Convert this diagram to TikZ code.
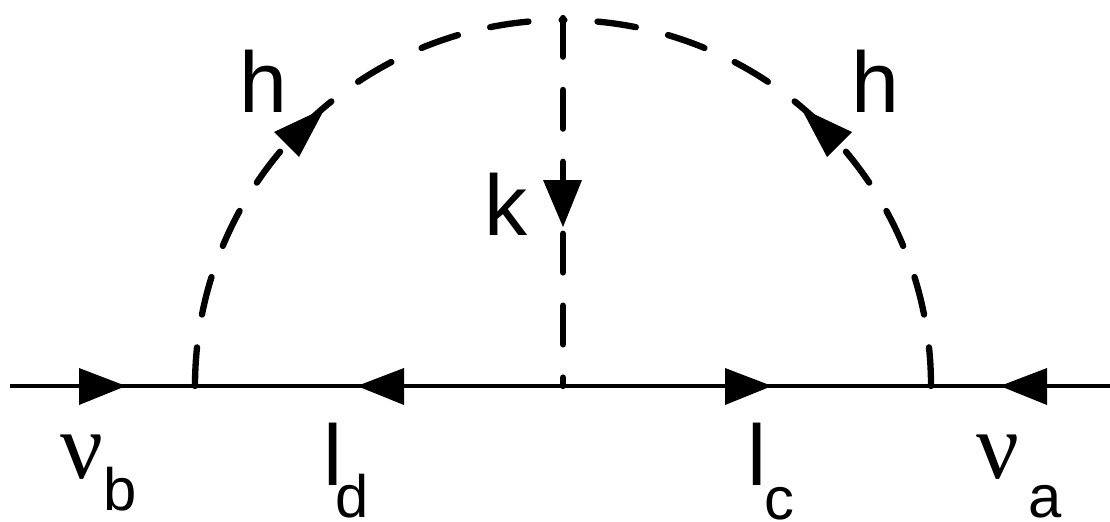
\documentclass[tikz,border=0pt]{standalone}
\usepackage{fontspec}
\setmainfont{Liberation Sans}
\newfontfamily\nufont{Liberation Serif}
\begin{document}
\begin{tikzpicture}[x=0.01cm,y=-0.01cm,
 fermion/.style={line width=1.4pt},
 scalar/.style={line width=1.8pt,line cap=round,dash pattern=on 11pt off 9.45pt},
 lab/.style={font=\fontsize{24.5}{24.5}\selectfont,inner sep=0pt,anchor=base},
 nulab/.style={font=\nufont\fontsize{27}{27}\selectfont,inner sep=0pt,anchor=base},
 sublab/.style={font=\fontsize{17}{17}\selectfont,inner sep=0pt,anchor=base}]
\useasboundingbox (0,0) rectangle (1110,521);
\coordinate (L) at (10,386);
\coordinate (R) at (1110,386);
\coordinate (A) at (195,386);
\coordinate (B) at (931,386);
\coordinate (T) at (563,20);
\coordinate (Ttop) at (563,18);
\coordinate (M) at (563,386);
\draw[fermion] (L) -- (R);
\draw[scalar] (A) .. controls (195,183) and (360,20) .. (T);
\draw[scalar] (B) .. controls (931,183) and (766,20) .. (T);
\draw[scalar] (Ttop) -- (M);
% arrowheads
\fill (126,386) -- (79,368) -- (79,405) -- cycle;
\fill (357,386) -- (404,368) -- (404,405) -- cycle;
\fill (772,386) -- (725,368) -- (725,405) -- cycle;
\fill (1000,386) -- (1047,368) -- (1047,405) -- cycle;
\fill (563,227) -- (543,180) -- (582,180) -- cycle;
\fill (325,108) -- (274,132) -- (299,157) -- cycle;
\fill (801,108) -- (852,132) -- (827,157) -- cycle;
\node[lab] (h1) at (263,112) {h};
\node[lab] (h2) at (875,112) {h};
\node[lab] (k) at (506,235) {k};
\node[nulab] (nb) at (82,478) {ν};
\node[sublab] (nbs) at (120,510) {b};
\node[lab] (ld) at (333,485) {l};
\node[sublab] (lds) at (352,517) {d};
\node[lab] (lc) at (757,485) {l};
\node[sublab] (lcs) at (779,519) {c};
\node[nulab] (na) at (998,478) {ν};
\node[sublab] (nas) at (1045,517) {a};
\end{tikzpicture}
\end{document}
